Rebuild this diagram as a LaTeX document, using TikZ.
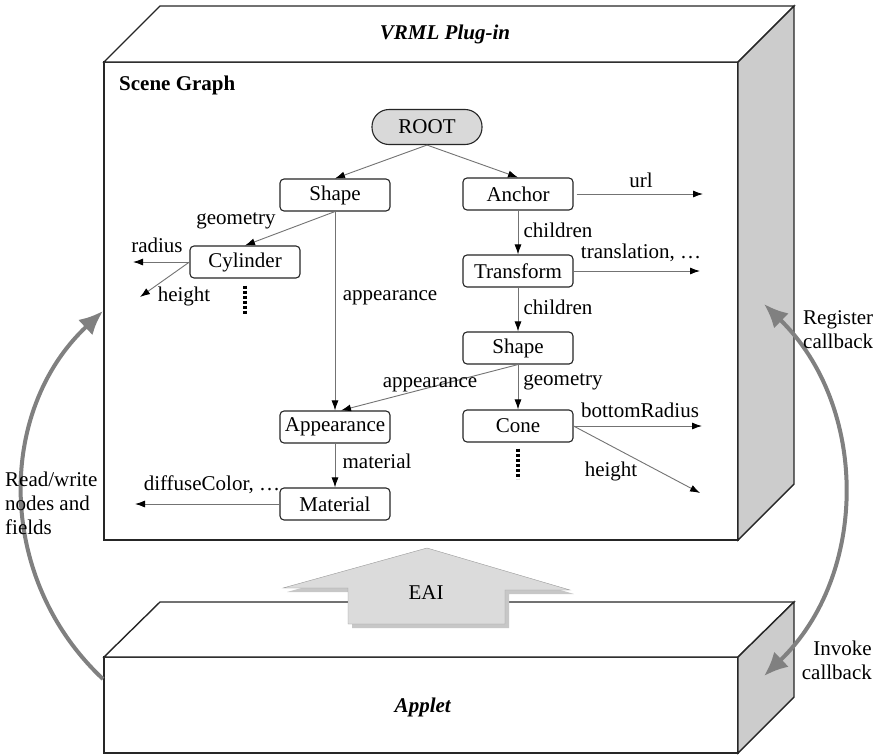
\documentclass[tikz,border=0pt]{standalone}
\usepackage{fontspec}
\setmainfont{Liberation Serif}
\usepackage{tikz}
\usetikzlibrary{arrows.meta}

\tikzset{
  graphnode/.style={draw=black!85, line width=1.1pt, rounded corners=4pt, fill=white,
    minimum width=110pt, minimum height=32pt, inner sep=0pt},
  rootnode/.style={graphnode, fill=black!15, rounded corners=17pt, minimum height=35pt},
  edge/.style={draw=black!55, line width=0.9pt, -{Latex[length=10pt,width=7pt,color=black]}},
  lbl/.style={inner sep=0pt},
  boxline/.style={draw=black!85, line width=1.4pt},
  flow/.style={draw=black!50, line width=4pt},
  dotmark/.style={line width=3.5pt, dash pattern=on 3pt off 2pt}
}

\begin{document}
\begin{tikzpicture}[x=1pt, y=-1pt, font=\fontsize{21pt}{24pt}\selectfont]
  \useasboundingbox (0,0) rectangle (880,755);

  % Plug-in block: front, top and side faces
  \draw[boxline, fill=white] (104,62) rectangle (738,540);
  \draw[boxline, fill=white] (104,62) -- (160,6) -- (794,6) -- (738,62) -- cycle;
  \draw[boxline, fill=black!20] (738,62) -- (794,6) -- (794,484) -- (738,540) -- cycle;
  \node[lbl] (plugin) at (445,34) {\textbf{\textit{VRML Plug-in}}};
  \node[lbl, anchor=west] (scene) at (119,85) {\textbf{Scene Graph}};

  % Applet block
  \draw[boxline, fill=white] (104,657) rectangle (738,753);
  \draw[boxline, fill=white] (104,657) -- (160,602) -- (794,602) -- (738,657) -- cycle;
  \draw[boxline, fill=black!20] (738,657) -- (794,602) -- (794,697) -- (738,753) -- cycle;
  \node[lbl] (applet) at (423,707) {\textbf{\textit{Applet}}};

  % EAI arrow with its shadow
  \fill[black!22, shift={(4,4)}] (348,624) -- (348,588) -- (283,588) -- (427,548)
    -- (570,590) -- (505,590) -- (505,624) -- cycle;
  \draw[draw=black!40, fill=black!14] (348,624) -- (348,588) -- (283,588) -- (427,548)
    -- (570,590) -- (505,590) -- (505,624) -- cycle;
  \node[lbl] (eai) at (426,593) {EAI};

  % Scene graph nodes
  \node[rootnode] (root) at (427,127) {ROOT};
  \node[graphnode] (shapeA) at (335,195) {Shape};
  \node[graphnode] (anchor) at (518,194) {Anchor};
  \node[graphnode] (cyl) at (245,262) {Cylinder};
  \node[graphnode] (trans) at (518,271) {Transform};
  \node[graphnode] (shapeB) at (518,348) {Shape};
  \node[graphnode] (appear) at (335,427) {Appearance};
  \node[graphnode] (cone) at (518,426) {Cone};
  \node[graphnode] (mat) at (335,504) {Material};

  % Free ends of the field arrows
  \coordinate (radiusEnd) at (133,262);
  \coordinate (cylHeightEnd) at (140,297);
  \coordinate (urlEnd) at (703,194);
  \coordinate (transEnd) at (700,271);
  \coordinate (bottomEnd) at (702,426);
  \coordinate (coneHeightEnd) at (700,493);
  \coordinate (colorEnd) at (135,504);

  % Children and fields
  \draw[edge] (root.south) -- (shapeA.north);
  \draw[edge] (root.south) -- (anchor.north);
  \draw[edge] (shapeA.south) -- (cyl.north);
  \draw[edge] (shapeA.south) -- (appear.north);
  \draw[edge] (shapeB.south) -- ([xshift=6pt]appear.north);
  \draw[edge] (anchor.south) -- (trans.north);
  \draw[edge] (trans.south) -- (shapeB.north);
  \draw[edge] (shapeB.south) -- (cone.north);
  \draw[edge] (appear.south) -- (mat.north);
  \draw[edge] (cyl.west) -- (radiusEnd);
  \draw[edge] (cyl.west) -- (cylHeightEnd);
  \draw[edge] ([xshift=3pt]anchor.east) -- (urlEnd);
  \draw[edge] (trans.east) -- (transEnd);
  \draw[edge] (cone.east) -- (bottomEnd);
  \draw[edge] (cone.east) -- (coneHeightEnd);
  \draw[edge] (mat.west) -- (colorEnd);

  % Elided children
  \draw[dotmark] ([yshift=-7pt]cyl.south) -- ++(0,29);
  \draw[dotmark] ([yshift=-6pt]cone.south) -- ++(0,30);

  % Label the edges
  \node[lbl] (lGeomA) at (236,221) {geometry};
  \node[lbl] (lRadius) at (157,245) {radius};
  \node[lbl] (lHeightA) at (184,296) {height};
  \node[lbl] (lAppA) at (390,298) {appearance};
  \node[lbl] (lUrl) at (641,180) {url};
  \node[lbl] (lChildA) at (558,230) {children};
  \node[lbl] (lTrans) at (641,253) {translation, \dots};
  \node[lbl] (lChildB) at (558,307) {children};
  \node[lbl] (lGeomB) at (563,382) {geometry};
  \node[lbl] (lAppB) at (430,385) {appearance};
  \node[lbl] (lBottom) at (640,410) {bottomRadius};
  \node[lbl] (lHeightB) at (611,471) {height};
  \node[lbl] (lMat) at (377,461) {material};
  \node[lbl] (lColor) at (212,485) {diffuseColor, \dots};

  % Access arrows around the blocks
  \coordinate (rwStart) at (103,679);
  \coordinate (rwTip) at (103,311);
  \coordinate (regTip) at (764,304);
  \coordinate (invTip) at (764,676);
  \draw[flow, -{Latex[length=24pt,width=21pt]}] (rwStart) .. controls (-4,579) and (-4,411) .. (rwTip);
  \draw[flow, {Latex[length=24pt,width=21pt]}-{Latex[length=24pt,width=21pt]}]
    (regTip) .. controls (869,406) and (869,575) .. (invTip);

  % Side notes
  \node[lbl, anchor=west, align=left] (rw) at (5,503) {Read/write\\nodes and\\fields};
  \node[lbl, anchor=west, align=left] (reg) at (803,330) {Register\\callback};
  \node[lbl, anchor=east, align=right] (inv) at (872,660) {Invoke\\callback};
\end{tikzpicture}
\end{document}
